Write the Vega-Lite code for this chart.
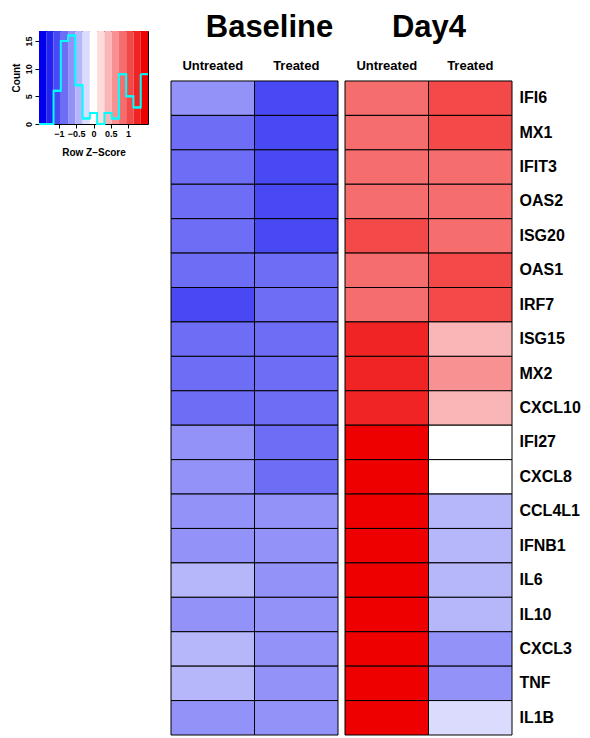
{
  "$schema": "https://vega.github.io/schema/vega-lite/v6.json",
  "padding": {"left": 10, "top": 11, "right": 0, "bottom": 0},
  "background": "white",
  "config": {
    "view": {"stroke": null},
    "font": "Liberation Sans",
    "axis": {"labelColor": "black", "titleColor": "black", "tickColor": "black", "grid": false, "labelOverlap": false},
    "axisQuantitative": {"labelOverlap": false}
  },
  "datasets": {
    "hist": [
      {"lo": -1.575, "hi": -1.365, "z": -1.47, "count": 0},
      {"lo": -1.365, "hi": -1.155, "z": -1.26, "count": 0},
      {"lo": -1.155, "hi": -0.945, "z": -1.05, "count": 6},
      {"lo": -0.945, "hi": -0.735, "z": -0.84, "count": 15},
      {"lo": -0.735, "hi": -0.525, "z": -0.63, "count": 16},
      {"lo": -0.525, "hi": -0.315, "z": -0.42, "count": 7},
      {"lo": -0.315, "hi": -0.105, "z": -0.21, "count": 1},
      {"lo": -0.105, "hi": 0.105, "z": 0, "count": 2},
      {"lo": 0.105, "hi": 0.315, "z": 0.21, "count": 0},
      {"lo": 0.315, "hi": 0.525, "z": 0.42, "count": 2},
      {"lo": 0.525, "hi": 0.735, "z": 0.63, "count": 1},
      {"lo": 0.735, "hi": 0.945, "z": 0.84, "count": 9},
      {"lo": 0.945, "hi": 1.155, "z": 1.05, "count": 5},
      {"lo": 1.155, "hi": 1.365, "z": 1.26, "count": 3},
      {"lo": 1.365, "hi": 1.575, "z": 1.47, "count": 9}
    ],
    "cells": [
      {"gene": "IFI6", "time": "Baseline", "treatment": "Untreated", "z": -0.63},
      {"gene": "IFI6", "time": "Baseline", "treatment": "Treated", "z": -1.05},
      {"gene": "IFI6", "time": "Day4", "treatment": "Untreated", "z": 0.84},
      {"gene": "IFI6", "time": "Day4", "treatment": "Treated", "z": 1.05},
      {"gene": "MX1", "time": "Baseline", "treatment": "Untreated", "z": -0.84},
      {"gene": "MX1", "time": "Baseline", "treatment": "Treated", "z": -1.05},
      {"gene": "MX1", "time": "Day4", "treatment": "Untreated", "z": 0.84},
      {"gene": "MX1", "time": "Day4", "treatment": "Treated", "z": 1.05},
      {"gene": "IFIT3", "time": "Baseline", "treatment": "Untreated", "z": -0.84},
      {"gene": "IFIT3", "time": "Baseline", "treatment": "Treated", "z": -1.05},
      {"gene": "IFIT3", "time": "Day4", "treatment": "Untreated", "z": 0.84},
      {"gene": "IFIT3", "time": "Day4", "treatment": "Treated", "z": 0.84},
      {"gene": "OAS2", "time": "Baseline", "treatment": "Untreated", "z": -0.84},
      {"gene": "OAS2", "time": "Baseline", "treatment": "Treated", "z": -1.05},
      {"gene": "OAS2", "time": "Day4", "treatment": "Untreated", "z": 0.84},
      {"gene": "OAS2", "time": "Day4", "treatment": "Treated", "z": 0.84},
      {"gene": "ISG20", "time": "Baseline", "treatment": "Untreated", "z": -0.84},
      {"gene": "ISG20", "time": "Baseline", "treatment": "Treated", "z": -1.05},
      {"gene": "ISG20", "time": "Day4", "treatment": "Untreated", "z": 1.05},
      {"gene": "ISG20", "time": "Day4", "treatment": "Treated", "z": 0.84},
      {"gene": "OAS1", "time": "Baseline", "treatment": "Untreated", "z": -0.84},
      {"gene": "OAS1", "time": "Baseline", "treatment": "Treated", "z": -0.84},
      {"gene": "OAS1", "time": "Day4", "treatment": "Untreated", "z": 0.84},
      {"gene": "OAS1", "time": "Day4", "treatment": "Treated", "z": 1.05},
      {"gene": "IRF7", "time": "Baseline", "treatment": "Untreated", "z": -1.05},
      {"gene": "IRF7", "time": "Baseline", "treatment": "Treated", "z": -0.84},
      {"gene": "IRF7", "time": "Day4", "treatment": "Untreated", "z": 0.84},
      {"gene": "IRF7", "time": "Day4", "treatment": "Treated", "z": 1.05},
      {"gene": "ISG15", "time": "Baseline", "treatment": "Untreated", "z": -0.84},
      {"gene": "ISG15", "time": "Baseline", "treatment": "Treated", "z": -0.84},
      {"gene": "ISG15", "time": "Day4", "treatment": "Untreated", "z": 1.26},
      {"gene": "ISG15", "time": "Day4", "treatment": "Treated", "z": 0.42},
      {"gene": "MX2", "time": "Baseline", "treatment": "Untreated", "z": -0.84},
      {"gene": "MX2", "time": "Baseline", "treatment": "Treated", "z": -0.84},
      {"gene": "MX2", "time": "Day4", "treatment": "Untreated", "z": 1.26},
      {"gene": "MX2", "time": "Day4", "treatment": "Treated", "z": 0.63},
      {"gene": "CXCL10", "time": "Baseline", "treatment": "Untreated", "z": -0.84},
      {"gene": "CXCL10", "time": "Baseline", "treatment": "Treated", "z": -0.84},
      {"gene": "CXCL10", "time": "Day4", "treatment": "Untreated", "z": 1.26},
      {"gene": "CXCL10", "time": "Day4", "treatment": "Treated", "z": 0.42},
      {"gene": "IFI27", "time": "Baseline", "treatment": "Untreated", "z": -0.63},
      {"gene": "IFI27", "time": "Baseline", "treatment": "Treated", "z": -0.84},
      {"gene": "IFI27", "time": "Day4", "treatment": "Untreated", "z": 1.47},
      {"gene": "IFI27", "time": "Day4", "treatment": "Treated", "z": 0},
      {"gene": "CXCL8", "time": "Baseline", "treatment": "Untreated", "z": -0.63},
      {"gene": "CXCL8", "time": "Baseline", "treatment": "Treated", "z": -0.84},
      {"gene": "CXCL8", "time": "Day4", "treatment": "Untreated", "z": 1.47},
      {"gene": "CXCL8", "time": "Day4", "treatment": "Treated", "z": 0},
      {"gene": "CCL4L1", "time": "Baseline", "treatment": "Untreated", "z": -0.63},
      {"gene": "CCL4L1", "time": "Baseline", "treatment": "Treated", "z": -0.63},
      {"gene": "CCL4L1", "time": "Day4", "treatment": "Untreated", "z": 1.47},
      {"gene": "CCL4L1", "time": "Day4", "treatment": "Treated", "z": -0.42},
      {"gene": "IFNB1", "time": "Baseline", "treatment": "Untreated", "z": -0.63},
      {"gene": "IFNB1", "time": "Baseline", "treatment": "Treated", "z": -0.63},
      {"gene": "IFNB1", "time": "Day4", "treatment": "Untreated", "z": 1.47},
      {"gene": "IFNB1", "time": "Day4", "treatment": "Treated", "z": -0.42},
      {"gene": "IL6", "time": "Baseline", "treatment": "Untreated", "z": -0.42},
      {"gene": "IL6", "time": "Baseline", "treatment": "Treated", "z": -0.63},
      {"gene": "IL6", "time": "Day4", "treatment": "Untreated", "z": 1.47},
      {"gene": "IL6", "time": "Day4", "treatment": "Treated", "z": -0.42},
      {"gene": "IL10", "time": "Baseline", "treatment": "Untreated", "z": -0.63},
      {"gene": "IL10", "time": "Baseline", "treatment": "Treated", "z": -0.63},
      {"gene": "IL10", "time": "Day4", "treatment": "Untreated", "z": 1.47},
      {"gene": "IL10", "time": "Day4", "treatment": "Treated", "z": -0.42},
      {"gene": "CXCL3", "time": "Baseline", "treatment": "Untreated", "z": -0.42},
      {"gene": "CXCL3", "time": "Baseline", "treatment": "Treated", "z": -0.63},
      {"gene": "CXCL3", "time": "Day4", "treatment": "Untreated", "z": 1.47},
      {"gene": "CXCL3", "time": "Day4", "treatment": "Treated", "z": -0.63},
      {"gene": "TNF", "time": "Baseline", "treatment": "Untreated", "z": -0.42},
      {"gene": "TNF", "time": "Baseline", "treatment": "Treated", "z": -0.63},
      {"gene": "TNF", "time": "Day4", "treatment": "Untreated", "z": 1.47},
      {"gene": "TNF", "time": "Day4", "treatment": "Treated", "z": -0.63},
      {"gene": "IL1B", "time": "Baseline", "treatment": "Untreated", "z": -0.63},
      {"gene": "IL1B", "time": "Baseline", "treatment": "Treated", "z": -0.63},
      {"gene": "IL1B", "time": "Day4", "treatment": "Untreated", "z": 1.47},
      {"gene": "IL1B", "time": "Day4", "treatment": "Treated", "z": -0.21}
    ]
  },
  "spacing": 20,
  "hconcat": [
    {
      "width": 109,
      "height": 93,
      "view": {"stroke": "black", "strokeWidth": 1},
      "data": {"name": "hist"},
      "encoding": {
        "x": {"field": "lo", "type": "quantitative", "scale": {"domain": [-1.575, 1.575], "nice": false, "zero": false},
          "axis": {"values": [-1, -0.5, 0, 0.5, 1], "format": "~g", "labelOverlap": false, "title": "Row Z\u2212Score", "domain": false, "tickSize": 4, "labelFontSize": 9, "labelFontWeight": "bold", "labelPadding": 1, "titleFontSize": 10, "titleFontWeight": "bold", "titlePadding": 9}}
      },
      "layer": [
        {
          "mark": {"type": "rect"},
          "encoding": {
            "x2": {"field": "hi"},
            "fill": {"field": "z", "type": "quantitative", "legend": null,
              "scale": {"type": "threshold",
                "domain": [-1.365, -1.155, -0.945, -0.735, -0.525, -0.315, -0.105, 0.105, 0.315, 0.525, 0.735, 0.945, 1.155, 1.365],
                "range": ["#0000EE", "#2424F0", "#4949F3", "#6D6DF5", "#9292F8", "#B6B6FA", "#DBDBFD", "#FFFFFF", "#FDDBDB", "#FAB6B6", "#F89292", "#F56D6D", "#F34949", "#F02424", "#EE0000"]}}
          }
        },
        {
          "mark": {"type": "line", "interpolate": "step-after", "color": "#00FFFF", "strokeWidth": 2},
          "encoding": {
            "y": {"field": "count", "type": "quantitative", "scale": {"domain": [0, 16.8], "nice": false},
              "axis": {"values": [0, 5, 10, 15], "labelOverlap": false, "title": "Count", "domain": false, "tickSize": 4, "labelAngle": -90, "labelAlign": "center", "labelBaseline": "bottom", "labelFontSize": 9, "labelFontWeight": "bold", "labelPadding": 2, "titleFontSize": 10, "titleFontWeight": "bold", "titlePadding": 3}}
          }
        },
        {
          "mark": {"type": "rule", "color": "#00FFFF", "strokeWidth": 2},
          "encoding": {
            "x2": {"field": "hi"},
            "y": {"field": "count", "type": "quantitative",
              "axis": {"values": [0, 5, 10, 15], "labelOverlap": false, "title": "Count", "domain": false, "tickSize": 4, "labelAngle": -90, "labelAlign": "center", "labelBaseline": "bottom", "labelFontSize": 9, "labelFontWeight": "bold", "labelPadding": 2, "titleFontSize": 10, "titleFontWeight": "bold", "titlePadding": 3}}
          }
        }
      ]
    },
    {
      "spacing": 5,
      "hconcat": [
        {
          "width": 167,
          "height": 704,
          "data": {"name": "cells"},
          "transform": [{"filter": "datum.time === 'Baseline'"}],
          "mark": {"type": "rect", "stroke": "black", "strokeWidth": 1},
          "encoding": {
            "x": {"field": "treatment", "type": "nominal", "sort": ["Untreated", "Treated"], "scale": {"paddingInner": 0, "paddingOuter": 0},
              "axis": {"orient": "top", "offset": -50, "title": "Baseline", "titleFontSize": 31, "titleFontWeight": "bold", "titlePadding": 16, "titleX": 98, "labelAngle": 0, "ticks": false, "tickSize": 0, "domain": false, "labelFontSize": 13, "labelFontWeight": "bold", "labelPadding": 9}},
            "y": {"field": "gene", "type": "nominal", "sort": ["IFI6", "MX1", "IFIT3", "OAS2", "ISG20", "OAS1", "IRF7", "ISG15", "MX2", "CXCL10", "IFI27", "CXCL8", "CCL4L1", "IFNB1", "IL6", "IL10", "CXCL3", "TNF", "IL1B"], "scale": {"paddingInner": 0, "paddingOuter": 0.726, "align": 1}, "axis": null},
            "fill": {"field": "z", "type": "quantitative", "legend": null,
              "scale": {"type": "threshold",
                "domain": [-1.365, -1.155, -0.945, -0.735, -0.525, -0.315, -0.105, 0.105, 0.315, 0.525, 0.735, 0.945, 1.155, 1.365],
                "range": ["#0000EE", "#2424F0", "#4949F3", "#6D6DF5", "#9292F8", "#B6B6FA", "#DBDBFD", "#FFFFFF", "#FDDBDB", "#FAB6B6", "#F89292", "#F56D6D", "#F34949", "#F02424", "#EE0000"]}}
          }
        },
        {
          "width": 167,
          "height": 704,
          "data": {"name": "cells"},
          "transform": [{"filter": "datum.time === 'Day4'"}],
          "mark": {"type": "rect", "stroke": "black", "strokeWidth": 1},
          "encoding": {
            "x": {"field": "treatment", "type": "nominal", "sort": ["Untreated", "Treated"], "scale": {"paddingInner": 0, "paddingOuter": 0},
              "axis": {"orient": "top", "offset": -50, "title": "Day4", "titleFontSize": 31, "titleFontWeight": "bold", "titlePadding": 16, "labelAngle": 0, "ticks": false, "tickSize": 0, "domain": false, "labelFontSize": 13, "labelFontWeight": "bold", "labelPadding": 9}},
            "y": {"field": "gene", "type": "nominal", "sort": ["IFI6", "MX1", "IFIT3", "OAS2", "ISG20", "OAS1", "IRF7", "ISG15", "MX2", "CXCL10", "IFI27", "CXCL8", "CCL4L1", "IFNB1", "IL6", "IL10", "CXCL3", "TNF", "IL1B"], "scale": {"paddingInner": 0, "paddingOuter": 0.726, "align": 1},
              "axis": {"orient": "right", "title": null, "ticks": false, "tickSize": 0, "domain": false, "labelFontSize": 16, "labelFontWeight": "bold", "labelPadding": 7}},
            "fill": {"field": "z", "type": "quantitative", "legend": null,
              "scale": {"type": "threshold",
                "domain": [-1.365, -1.155, -0.945, -0.735, -0.525, -0.315, -0.105, 0.105, 0.315, 0.525, 0.735, 0.945, 1.155, 1.365],
                "range": ["#0000EE", "#2424F0", "#4949F3", "#6D6DF5", "#9292F8", "#B6B6FA", "#DBDBFD", "#FFFFFF", "#FDDBDB", "#FAB6B6", "#F89292", "#F56D6D", "#F34949", "#F02424", "#EE0000"]}}
          }
        }
      ]
    }
  ]
}
